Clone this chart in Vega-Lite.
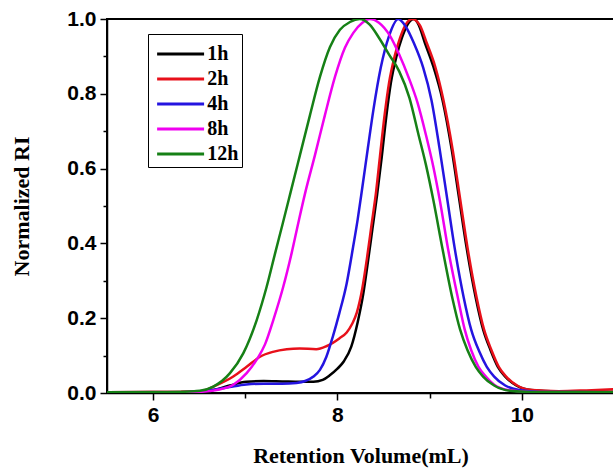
{
  "$schema": "https://vega.github.io/schema/vega-lite/v6.json",
  "width": 507,
  "height": 374,
  "autosize": "none",
  "padding": {"left": 107, "top": 19, "right": 0, "bottom": 76},
  "background": "white",
  "config": {"view": {"stroke": "#000000", "strokeWidth": 2}},
  "datasets": {
    "curves": [
      {"s":"1h","v":5.5,"y":0.002},{"s":"1h","v":6.3,"y":0.003},{"s":"1h","v":6.5,"y":0.005},{"s":"1h","v":6.65,"y":0.008},{"s":"1h","v":6.83,"y":0.02},{"s":"1h","v":7.01,"y":0.03},{"s":"1h","v":7.2,"y":0.032},{"s":"1h","v":7.4,"y":0.031},{"s":"1h","v":7.6,"y":0.03},{"s":"1h","v":7.74,"y":0.03},{"s":"1h","v":7.84,"y":0.035},{"s":"1h","v":7.92,"y":0.048},{"s":"1h","v":8.0,"y":0.065},{"s":"1h","v":8.07,"y":0.085},{"s":"1h","v":8.15,"y":0.124},{"s":"1h","v":8.22,"y":0.19},{"s":"1h","v":8.28,"y":0.265},{"s":"1h","v":8.33,"y":0.35},{"s":"1h","v":8.38,"y":0.44},{"s":"1h","v":8.43,"y":0.53},{"s":"1h","v":8.48,"y":0.63},{"s":"1h","v":8.53,"y":0.74},{"s":"1h","v":8.58,"y":0.83},{"s":"1h","v":8.64,"y":0.9},{"s":"1h","v":8.7,"y":0.95},{"s":"1h","v":8.76,"y":0.985},{"s":"1h","v":8.83,"y":1.0},{"s":"1h","v":8.88,"y":0.985},{"s":"1h","v":8.95,"y":0.935},{"s":"1h","v":9.04,"y":0.873},{"s":"1h","v":9.14,"y":0.783},{"s":"1h","v":9.24,"y":0.65},{"s":"1h","v":9.32,"y":0.52},{"s":"1h","v":9.4,"y":0.39},{"s":"1h","v":9.5,"y":0.255},{"s":"1h","v":9.58,"y":0.17},{"s":"1h","v":9.66,"y":0.115},{"s":"1h","v":9.74,"y":0.07},{"s":"1h","v":9.82,"y":0.044},{"s":"1h","v":9.94,"y":0.02},{"s":"1h","v":10.1,"y":0.008},{"s":"1h","v":10.4,"y":0.004},{"s":"1h","v":11,"y":0.003},

      {"s":"2h","v":5.5,"y":0.002},{"s":"2h","v":6.3,"y":0.003},{"s":"2h","v":6.51,"y":0.004},{"s":"2h","v":6.69,"y":0.021},{"s":"2h","v":6.87,"y":0.044},{"s":"2h","v":7.015,"y":0.07},{"s":"2h","v":7.16,"y":0.097},{"s":"2h","v":7.3,"y":0.11},{"s":"2h","v":7.45,"y":0.117},{"s":"2h","v":7.59,"y":0.119},{"s":"2h","v":7.77,"y":0.117},{"s":"2h","v":7.88,"y":0.125},{"s":"2h","v":8.02,"y":0.146},{"s":"2h","v":8.1,"y":0.162},{"s":"2h","v":8.16,"y":0.185},{"s":"2h","v":8.21,"y":0.215},{"s":"2h","v":8.27,"y":0.28},{"s":"2h","v":8.32,"y":0.36},{"s":"2h","v":8.37,"y":0.45},{"s":"2h","v":8.42,"y":0.54},{"s":"2h","v":8.46,"y":0.63},{"s":"2h","v":8.51,"y":0.74},{"s":"2h","v":8.56,"y":0.83},{"s":"2h","v":8.62,"y":0.9},{"s":"2h","v":8.68,"y":0.95},{"s":"2h","v":8.74,"y":0.985},{"s":"2h","v":8.81,"y":1.0},{"s":"2h","v":8.89,"y":0.985},{"s":"2h","v":8.97,"y":0.935},{"s":"2h","v":9.06,"y":0.873},{"s":"2h","v":9.15,"y":0.783},{"s":"2h","v":9.25,"y":0.65},{"s":"2h","v":9.33,"y":0.52},{"s":"2h","v":9.41,"y":0.39},{"s":"2h","v":9.51,"y":0.255},{"s":"2h","v":9.59,"y":0.17},{"s":"2h","v":9.67,"y":0.115},{"s":"2h","v":9.75,"y":0.07},{"s":"2h","v":9.83,"y":0.044},{"s":"2h","v":9.95,"y":0.02},{"s":"2h","v":10.11,"y":0.008},{"s":"2h","v":10.4,"y":0.005},{"s":"2h","v":10.7,"y":0.007},{"s":"2h","v":11,"y":0.01},

      {"s":"4h","v":5.5,"y":0.001},{"s":"4h","v":6.3,"y":0.002},{"s":"4h","v":6.5,"y":0.004},{"s":"4h","v":6.65,"y":0.008},{"s":"4h","v":6.83,"y":0.016},{"s":"4h","v":7.01,"y":0.023},{"s":"4h","v":7.2,"y":0.025},{"s":"4h","v":7.4,"y":0.025},{"s":"4h","v":7.555,"y":0.027},{"s":"4h","v":7.65,"y":0.032},{"s":"4h","v":7.74,"y":0.044},{"s":"4h","v":7.81,"y":0.062},{"s":"4h","v":7.88,"y":0.097},{"s":"4h","v":7.95,"y":0.151},{"s":"4h","v":8.02,"y":0.213},{"s":"4h","v":8.1,"y":0.293},{"s":"4h","v":8.17,"y":0.391},{"s":"4h","v":8.22,"y":0.465},{"s":"4h","v":8.27,"y":0.55},{"s":"4h","v":8.33,"y":0.655},{"s":"4h","v":8.39,"y":0.757},{"s":"4h","v":8.47,"y":0.87},{"s":"4h","v":8.56,"y":0.955},{"s":"4h","v":8.66,"y":1.0},{"s":"4h","v":8.74,"y":0.98},{"s":"4h","v":8.83,"y":0.935},{"s":"4h","v":8.93,"y":0.87},{"s":"4h","v":9.02,"y":0.783},{"s":"4h","v":9.11,"y":0.65},{"s":"4h","v":9.19,"y":0.52},{"s":"4h","v":9.27,"y":0.39},{"s":"4h","v":9.37,"y":0.255},{"s":"4h","v":9.45,"y":0.17},{"s":"4h","v":9.54,"y":0.11},{"s":"4h","v":9.62,"y":0.07},{"s":"4h","v":9.7,"y":0.044},{"s":"4h","v":9.82,"y":0.02},{"s":"4h","v":9.97,"y":0.008},{"s":"4h","v":10.2,"y":0.003},{"s":"4h","v":11,"y":0.002},

      {"s":"8h","v":5.5,"y":0.001},{"s":"8h","v":6.3,"y":0.002},{"s":"8h","v":6.5,"y":0.003},{"s":"8h","v":6.69,"y":0.008},{"s":"8h","v":6.87,"y":0.022},{"s":"8h","v":7.015,"y":0.053},{"s":"8h","v":7.124,"y":0.089},{"s":"8h","v":7.214,"y":0.13},{"s":"8h","v":7.304,"y":0.195},{"s":"8h","v":7.412,"y":0.284},{"s":"8h","v":7.503,"y":0.374},{"s":"8h","v":7.58,"y":0.46},{"s":"8h","v":7.65,"y":0.535},{"s":"8h","v":7.756,"y":0.636},{"s":"8h","v":7.864,"y":0.743},{"s":"8h","v":7.973,"y":0.845},{"s":"8h","v":8.081,"y":0.923},{"s":"8h","v":8.172,"y":0.963},{"s":"8h","v":8.27,"y":0.99},{"s":"8h","v":8.35,"y":1.0},{"s":"8h","v":8.45,"y":0.99},{"s":"8h","v":8.57,"y":0.955},{"s":"8h","v":8.67,"y":0.905},{"s":"8h","v":8.77,"y":0.845},{"s":"8h","v":8.87,"y":0.775},{"s":"8h","v":8.96,"y":0.69},{"s":"8h","v":9.04,"y":0.605},{"s":"8h","v":9.11,"y":0.516},{"s":"8h","v":9.2,"y":0.385},{"s":"8h","v":9.31,"y":0.25},{"s":"8h","v":9.38,"y":0.17},{"s":"8h","v":9.45,"y":0.115},{"s":"8h","v":9.53,"y":0.07},{"s":"8h","v":9.61,"y":0.044},{"s":"8h","v":9.7,"y":0.022},{"s":"8h","v":9.85,"y":0.008},{"s":"8h","v":10.1,"y":0.003},{"s":"8h","v":11,"y":0.002},

      {"s":"12h","v":5.5,"y":0.002},{"s":"12h","v":6.0,"y":0.002},{"s":"12h","v":6.3,"y":0.003},{"s":"12h","v":6.51,"y":0.006},{"s":"12h","v":6.653,"y":0.017},{"s":"12h","v":6.834,"y":0.053},{"s":"12h","v":6.978,"y":0.106},{"s":"12h","v":7.124,"y":0.195},{"s":"12h","v":7.232,"y":0.284},{"s":"12h","v":7.322,"y":0.372},{"s":"12h","v":7.405,"y":0.452},{"s":"12h","v":7.49,"y":0.535},{"s":"12h","v":7.593,"y":0.636},{"s":"12h","v":7.702,"y":0.743},{"s":"12h","v":7.81,"y":0.845},{"s":"12h","v":7.919,"y":0.925},{"s":"12h","v":8.027,"y":0.971},{"s":"12h","v":8.136,"y":0.992},{"s":"12h","v":8.24,"y":1.0},{"s":"12h","v":8.35,"y":0.985},{"s":"12h","v":8.45,"y":0.95},{"s":"12h","v":8.56,"y":0.905},{"s":"12h","v":8.67,"y":0.86},{"s":"12h","v":8.78,"y":0.79},{"s":"12h","v":8.88,"y":0.69},{"s":"12h","v":8.96,"y":0.61},{"s":"12h","v":9.04,"y":0.516},{"s":"12h","v":9.14,"y":0.385},{"s":"12h","v":9.25,"y":0.25},{"s":"12h","v":9.33,"y":0.17},{"s":"12h","v":9.41,"y":0.115},{"s":"12h","v":9.5,"y":0.07},{"s":"12h","v":9.58,"y":0.044},{"s":"12h","v":9.7,"y":0.02},{"s":"12h","v":9.87,"y":0.006},{"s":"12h","v":10.1,"y":0.003},{"s":"12h","v":10.5,"y":0.003},{"s":"12h","v":11,"y":0.002}
    ]
  },
  "data": {"name": "curves"},
  "mark": {"type": "line", "strokeWidth": 2.5, "interpolate": "monotone", "clip": true},
  "encoding": {
    "x": {
      "field": "v", "type": "quantitative",
      "scale": {"domain": [5.5, 11], "nice": false, "zero": false},
      "axis": {
        "title": "Retention Volume(mL)",
        "values": [6, 7, 8, 9, 10],
        "labelExpr": "datum.value % 2 == 0 ? datum.label : ''",
        "grid": false,
        "domainColor": "#000000", "domainWidth": 1.5,
        "tickColor": "#000000", "tickWidth": 1.5,
        "tickSize": {"condition": {"test": "datum.value % 2 == 0", "value": 7}, "value": 5},
        "labelFont": "Liberation Sans", "labelFontWeight": "bold", "labelFontSize": 21, "labelColor": "#000000",
        "labelPadding": 4,
        "titleFont": "Liberation Serif", "titleFontWeight": "bold", "titleFontSize": 22, "titleColor": "#000000",
        "titlePadding": 20
      }
    },
    "y": {
      "field": "y", "type": "quantitative",
      "scale": {"domain": [0, 1], "nice": false},
      "axis": {
        "title": "Normalized RI",
        "values": [0, 0.1, 0.2, 0.3, 0.4, 0.5, 0.6, 0.7, 0.8, 0.9, 1.0],
        "labelExpr": "round(datum.value * 10) % 2 == 0 ? format(datum.value, '.1f') : ''",
        "grid": false,
        "domainColor": "#000000", "domainWidth": 1.5,
        "tickColor": "#000000", "tickWidth": 1.5,
        "tickSize": {"condition": {"test": "round(datum.value * 10) % 2 == 0", "value": 7}, "value": 4},
        "labelFont": "Liberation Sans", "labelFontWeight": "bold", "labelFontSize": 21, "labelColor": "#000000",
        "labelPadding": 4,
        "titleFont": "Liberation Serif", "titleFontWeight": "bold", "titleFontSize": 22, "titleColor": "#000000",
        "titlePadding": 33
      }
    },
    "color": {
      "field": "s", "type": "nominal",
      "scale": {"domain": ["1h", "2h", "4h", "8h", "12h"], "range": ["#000000", "#e8101a", "#2414e0", "#f000f0", "#168016"]},
      "legend": {
        "title": " ", "titleFontSize": 6, "titlePadding": 0,
        "orient": "none", "legendX": 41, "legendY": 15,
        "symbolType": "M-2.5,0L2.5,0", "symbolSize": 353, "symbolStrokeWidth": 3,
        "symbolOffset": 18.6,
        "labelFont": "Liberation Serif", "labelFontWeight": "bold", "labelFontSize": 20, "labelColor": "#000000",
        "labelOffset": 15.6,
        "strokeColor": "#000000", "fillColor": "#ffffff",
        "padding": 3, "rowPadding": 4
      }
    }
  }
}
